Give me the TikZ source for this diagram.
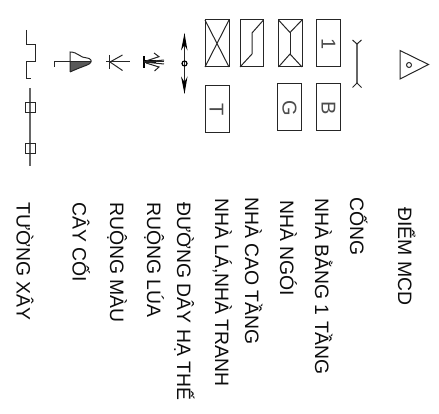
\documentclass[tikz,border=0pt]{standalone}
\usepackage{fontspec}
\setmainfont{Liberation Sans}
\tikzset{
  sym/.style={line width=1pt,black!85,line join=miter},
  thick sym/.style={line width=2pt,black},
  lab/.style={rotate=-90,anchor=base west,inner sep=0pt,font=\fontsize{19.4}{20}\selectfont,text=black!95},
  boxmark/.style={rotate=-90,anchor=center,inner sep=0pt,font=\fontsize{20}{20}\selectfont,text=black!70},
  greyline/.style={line width=1.2pt,black!60},
  hatchfill/.style={fill=black!65}
}
\begin{document}
\begin{tikzpicture}[x=1pt,y=-1pt]
\useasboundingbox (0,0) rectangle (439,414);
% walls
\draw[sym] (26.5,30) -- (26.5,44.5) -- (35,44.5) -- (35,61.5) -- (26.5,61.5) -- (26.5,79) -- (30.5,79);
\draw[greyline] (30,88) -- (30,166);
\draw[sym] (25,103) rectangle (35,113);
\draw[sym] (25,143.5) rectangle (35,153.5);
% tree
\fill[hatchfill] (70,62) -- (91,62) .. controls (90,65) and (84,65.5) .. (70,72) -- cycle;
\draw[sym] (54.5,67) -- (54.5,62) -- (91,62);
\draw[sym] (70,72) -- (70,52) .. controls (78,52) and (80,58) .. (87,58) .. controls (90,58) and (92,61) .. (91,62) .. controls (90,65) and (84,65.5) .. (70,72);
% crop field
\draw[sym] (106,62) -- (129.5,62);
\draw[sym] (109.5,55) -- (109.5,69);
\draw[sym] (110,62) -- (122.5,55);
\draw[sym] (110,62) -- (122.5,70.5);
% rice
\draw[thick sym] (144,56.5) -- (144,68);
\fill (144,60.5) -- (156,60.5) -- (156,63.5) -- (144,63.5) -- cycle;
\draw[sym] (144,62) -- (164,60);
\draw[sym] (144,62) -- (164,62);
\draw[sym] (144,62) -- (164,64);
\draw[sym] (146,63) -- (159,67) -- (154.5,71);
\draw[sym] (146,61) -- (159,56.7) -- (154,53);
% power line
\draw[sym] (184.5,34) -- (184.5,93);
\fill (184.5,33) -- (187.5,50.5) -- (184.5,45) -- (181,50.5) -- cycle;
\fill (184.5,94) -- (187.5,76.5) -- (184.5,82) -- (181,76.5) -- cycle;
\draw[line width=1.2pt] (184.5,63.5) circle (2.5);
% boxes
\draw[sym] (205,20) rectangle (229,67);
\draw[sym] (205,20) -- (229,67) (229,20) -- (205,67);
\draw[sym] (240,20) rectangle (263.5,67);
\draw[sym] (240,67) -- (252,54) -- (252,33) -- (263.5,20);
\draw[sym] (278.5,20) rectangle (302,67);
\draw[sym] (278.5,20) -- (290,32.5) -- (302,20);
\draw[sym] (278.5,67) -- (290,54) -- (302,67);
\draw[sym] (290,32.5) -- (290,54);
\draw[sym] (316.7,20) rectangle (340,67);
\node[boxmark] (m1) at (328.5,44) {1};
\draw[sym] (205,85.7) rectangle (229,132.7);
\node[boxmark] (mt) at (216.5,110) {T};
\draw[sym] (277.5,84) rectangle (301,131);
\node[boxmark] (mg) at (289.5,108) {G};
\draw[sym] (316.7,84) rectangle (340,131);
\node[boxmark] (mb) at (328.5,108) {B};
% culvert
\draw[greyline] (357,44) -- (357,83);
\draw[sym] (352.5,40) -- (357,44) -- (361.5,40);
\draw[sym] (352.5,87.5) -- (357,83) -- (361.5,87.5);
% survey point
\draw[sym] (400,50.5) -- (428.5,64.5) -- (400,79) -- cycle;
\draw[sym] (409,65) circle (2.5);
% labels
\node[lab] (l1) at (398,207) {ĐIỂM MCD};
\node[lab] (l2) at (350,197) {CỐNG};
\node[lab] (l3) at (315,198) {NHÀ BẰNG 1 TẦNG};
\node[lab] (l4) at (280,200) {NHÀ NGÓI};
\node[lab] (l5) at (245,197) {NHÀ CAO TẦNG};
\node[lab] (l6) at (215,198) {NHÀ LÁ,NHÀ TRANH};
\node[lab] (l7) at (177,202) {ĐƯỜNG DÂY HẠ THẾ};
\node[lab] (l8) at (147,202) {RUỘNG LÚA};
\node[lab] (l9) at (110,202) {RUỘNG MÀU};
\node[lab] (l10) at (72.7,202) {CÂY CỐI};
\node[lab] (l11) at (16.7,202) {TƯỜNG XÂY};
\end{tikzpicture}
\end{document}
